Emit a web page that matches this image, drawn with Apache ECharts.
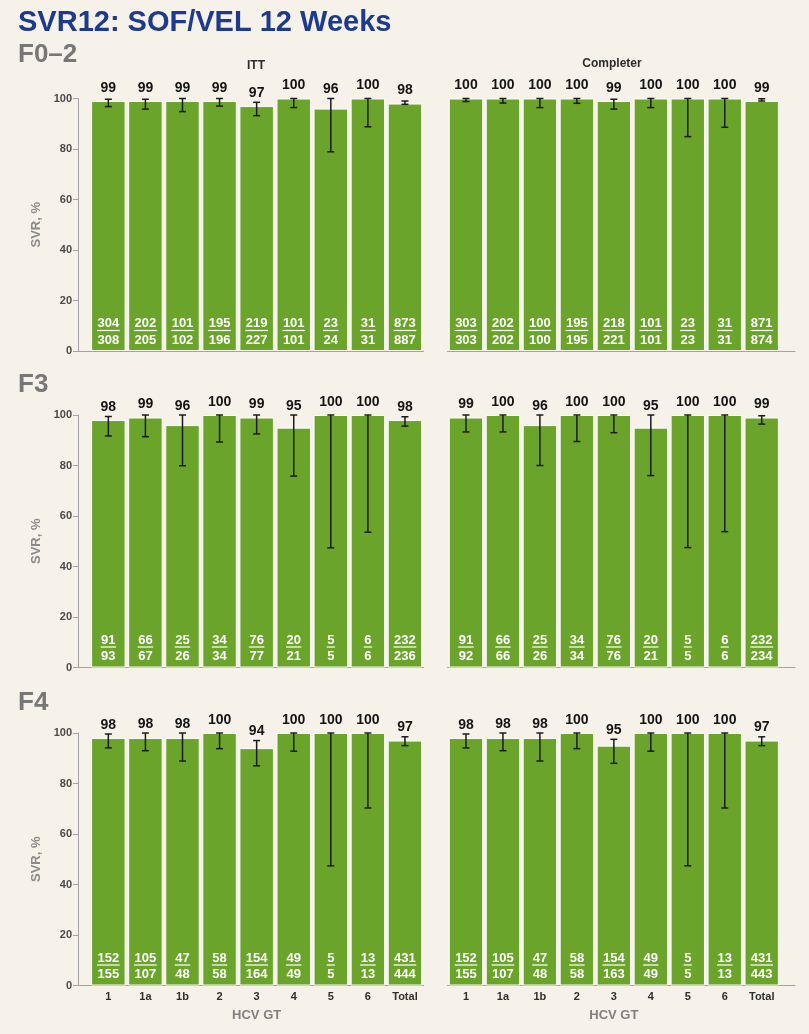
<!DOCTYPE html>
<html>
<head>
<meta charset="utf-8">
<script src="https://cdn.jsdelivr.net/npm/echarts@6/dist/echarts.min.js"></script>
<style>
  html, body { margin: 0; padding: 0; background: #f7f2e9; }
  #chart { width: 809px; height: 1034px; }
</style>
</head>
<body>
<div id="chart"></div>
<script>
// HCV genotype categories (shared by every panel)
const genotypes = ['1', '1a', '1b', '2', '3', '4', '5', '6', 'Total'];
const yTicks = [0, 20, 40, 60, 80, 100];

// F0–2, ITT
const f02IttSvr = [99, 99, 99, 99, 97, 100, 96, 100, 98];
const f02IttLow = [96.8, 95.8, 94.8, 97.0, 93.2, 96.4, 78.9, 88.8, 97.7];
const f02IttHigh = [99.7, 99.7, 100, 100, 98.5, 100, 100, 100, 99.0];
const f02IttCured = [304, 202, 101, 195, 219, 101, 23, 31, 873];
const f02IttTreated = [308, 205, 102, 196, 227, 101, 24, 31, 887];

// F0–2, Completer
const f02CompSvr = [100, 100, 100, 100, 99, 100, 100, 100, 99];
const f02CompLow = [98.8, 98.2, 96.4, 98.1, 95.8, 96.4, 84.9, 88.6, 99.0];
const f02CompHigh = [100, 100, 100, 100, 99.7, 100, 100, 100, 99.9];
const f02CompCured = [303, 202, 100, 195, 218, 101, 23, 31, 871];
const f02CompTreated = [303, 202, 100, 195, 221, 101, 23, 31, 874];

// F3, ITT
const f3IttSvr = [98, 99, 96, 100, 99, 95, 100, 100, 98];
const f3IttLow = [91.7, 91.4, 79.9, 89.3, 92.5, 75.8, 47.4, 53.6, 95.6];
const f3IttHigh = [99.4, 100, 100, 100, 100, 100, 100, 100, 99.3];
const f3IttCured = [91, 66, 25, 34, 76, 20, 5, 6, 232];
const f3IttTreated = [93, 67, 26, 34, 77, 21, 5, 6, 236];

// F3, Completer
const f3CompSvr = [99, 100, 96, 100, 100, 95, 100, 100, 99];
const f3CompLow = [93.3, 93.3, 80.0, 89.5, 93.0, 76.0, 47.5, 53.8, 96.4];
const f3CompHigh = [100, 100, 100, 100, 100, 100, 100, 100, 99.7];
const f3CompCured = [91, 66, 25, 34, 76, 20, 5, 6, 232];
const f3CompTreated = [92, 66, 26, 34, 76, 21, 5, 6, 234];

// F4, ITT
const f4IttSvr = [98, 98, 98, 100, 94, 100, 100, 100, 97];
const f4IttLow = [94.1, 93.0, 88.9, 93.8, 87.0, 92.8, 47.4, 70.3, 95.0];
const f4IttHigh = [99.6, 100, 100, 100, 97.0, 100, 100, 100, 98.5];
const f4IttCured = [152, 105, 47, 58, 154, 49, 5, 13, 431];
const f4IttTreated = [155, 107, 48, 58, 164, 49, 5, 13, 444];

// F4, Completer
const f4CompSvr = [98, 98, 98, 100, 95, 100, 100, 100, 97];
const f4CompLow = [94.1, 93.0, 88.9, 93.8, 88.0, 92.8, 47.4, 70.3, 95.0];
const f4CompHigh = [99.6, 100, 100, 100, 97.5, 100, 100, 100, 98.5];
const f4CompCured = [152, 105, 47, 58, 154, 49, 5, 13, 431];
const f4CompTreated = [155, 107, 48, 58, 163, 49, 5, 13, 443];

const rowLabels = ['F0\u20132', 'F3', 'F4'];
const columnLabels = ['ITT', 'Completer'];

const panels = [
  { row: 0, col: 0, svr: f02IttSvr, low: f02IttLow, high: f02IttHigh, cured: f02IttCured, treated: f02IttTreated },
  { row: 0, col: 1, svr: f02CompSvr, low: f02CompLow, high: f02CompHigh, cured: f02CompCured, treated: f02CompTreated },
  { row: 1, col: 0, svr: f3IttSvr, low: f3IttLow, high: f3IttHigh, cured: f3IttCured, treated: f3IttTreated },
  { row: 1, col: 1, svr: f3CompSvr, low: f3CompLow, high: f3CompHigh, cured: f3CompCured, treated: f3CompTreated },
  { row: 2, col: 0, svr: f4IttSvr, low: f4IttLow, high: f4IttHigh, cured: f4IttCured, treated: f4IttTreated },
  { row: 2, col: 1, svr: f4CompSvr, low: f4CompLow, high: f4CompHigh, cured: f4CompCured, treated: f4CompTreated }
];

// ---- layout ----
const FONT = '"Liberation Sans", Arial, Helvetica, sans-serif';
const GREEN = '#6ba42a';
const rowTop = [98.5, 415, 733];
const plotHeight = 252.5;
const columns = [
  { frameLeft: 78, frameRight: 423.5, barLeft: 89.8, barRight: 423.5 },
  { frameLeft: 447.5, frameRight: 795, barLeft: 447.5, barRight: 780.2 }
];

const measureCtx = document.createElement('canvas').getContext('2d');
function textWidth(str, font) {
  measureCtx.font = font;
  return measureCtx.measureText(str).width;
}

const grid = [], xAxis = [], yAxis = [], series = [];

panels.forEach(function (p, k) {
  const col = columns[p.col];
  const top = rowTop[p.row];
  const isBottom = p.row === 2;
  const isLeft = p.col === 0;
  const frameIdx = 2 * k;
  const barIdx = 2 * k + 1;

  // frame grid: carries the value axis and the baseline
  grid.push({ left: col.frameLeft, top: top, width: col.frameRight - col.frameLeft, height: plotHeight });
  xAxis.push({
    gridIndex: frameIdx, type: 'category', data: [''],
    axisLine: { show: true, lineStyle: { color: '#a3a3a3', width: 1 } },
    axisTick: { show: false }, axisLabel: { show: false }
  });
  yAxis.push({
    gridIndex: frameIdx, type: 'value', min: yTicks[0], max: yTicks[yTicks.length - 1], interval: 20,
    show: isLeft,
    axisLine: { show: true, lineStyle: { color: '#a3a3a3', width: 1 } },
    axisTick: { show: true, length: 5, lineStyle: { color: '#a3a3a3' } },
    axisLabel: { show: true, margin: 6, color: '#4a4a4a', fontFamily: FONT, fontWeight: 'bold', fontSize: 11 },
    splitLine: { show: false },
    name: 'SVR, %', nameLocation: 'middle', nameGap: 35, nameRotate: 90,
    nameTextStyle: { color: '#8a8a8a', fontFamily: FONT, fontWeight: 'bold', fontSize: 13 }
  });

  // bar grid: carries the genotype bands
  grid.push({ left: col.barLeft, top: top, width: col.barRight - col.barLeft, height: plotHeight });
  xAxis.push({
    gridIndex: barIdx, type: 'category', data: genotypes,
    axisLine: { show: false }, axisTick: { show: false },
    axisLabel: { show: isBottom, margin: 6, color: '#2e2e2e', fontFamily: FONT, fontWeight: 'bold', fontSize: 11 },
    name: isBottom ? 'HCV GT' : '', nameLocation: 'middle', nameGap: 23,
    nameTextStyle: { color: '#808080', fontFamily: FONT, fontWeight: 'bold', fontSize: 13 }
  });
  yAxis.push({ gridIndex: barIdx, type: 'value', min: 0, max: 100, show: false });

  series.push({
    type: 'bar', xAxisIndex: barIdx, yAxisIndex: barIdx,
    data: p.svr, barCategoryGap: '7%',
    itemStyle: { color: GREEN, borderColor: '#fdfdf9', borderWidth: 1 },
    silent: true, z: 2
  });

  const rows = genotypes.map(function (g, i) {
    return [i, p.svr[i], p.low[i], p.high[i], p.cured[i], p.treated[i]];
  });

  series.push({
    type: 'custom', xAxisIndex: barIdx, yAxisIndex: barIdx, z: 5, silent: true,
    data: rows,
    encode: { x: 0, y: 1 },
    renderItem: function (params, api) {
      const i = api.value(0);
      const topPt = api.coord([i, api.value(1)]);
      const basePt = api.coord([i, 0]);
      const loPt = api.coord([i, api.value(2)]);
      const hiPt = api.coord([i, api.value(3)]);
      const x = topPt[0];
      const cap = 3.5;
      const stroke = { stroke: '#1b1b1b', lineWidth: 1.5 };
      const numStr = String(api.value(4));
      const denStr = String(api.value(5));
      const fracFont = 'bold 13px ' + FONT;
      const ruleW = Math.max(textWidth(numStr, fracFont), textWidth(denStr, fracFont)) + 1;
      const base = basePt[1];
      return {
        type: 'group',
        children: [
          { type: 'line', shape: { x1: x, y1: hiPt[1], x2: x, y2: loPt[1] }, style: stroke },
          { type: 'line', shape: { x1: x - cap, y1: hiPt[1], x2: x + cap, y2: hiPt[1] }, style: stroke },
          { type: 'line', shape: { x1: x - cap, y1: loPt[1], x2: x + cap, y2: loPt[1] }, style: stroke },
          {
            type: 'text', x: x, y: Math.min(topPt[1] - 13, hiPt[1] - 9),
            style: { text: String(api.value(1)), fill: '#141414', font: 'bold 14px ' + FONT, align: 'center', verticalAlign: 'middle' }
          },
          {
            type: 'text', x: x, y: base - 27.5,
            style: { text: numStr, fill: '#ffffff', font: fracFont, align: 'center', verticalAlign: 'middle' }
          },
          {
            type: 'line', shape: { x1: x - ruleW / 2, y1: base - 20.5, x2: x + ruleW / 2, y2: base - 20.5 },
            style: { stroke: '#ffffff', lineWidth: 1.2 }
          },
          {
            type: 'text', x: x, y: base - 11,
            style: { text: denStr, fill: '#ffffff', font: fracFont, align: 'center', verticalAlign: 'middle' }
          }
        ]
      };
    }
  });
});

// headings
const graphic = [
  { type: 'text', x: 18, y: 23, style: { text: 'SVR12: SOF/VEL 12 Weeks', fill: '#1c3a8e', font: 'bold 29px ' + FONT, verticalAlign: 'middle' } },
  { type: 'text', x: 256, y: 66, style: { text: columnLabels[0], fill: '#2b2b2b', font: 'bold 12px ' + FONT, align: 'center', verticalAlign: 'middle' } },
  { type: 'text', x: 612, y: 64, style: { text: columnLabels[1], fill: '#2b2b2b', font: 'bold 12px ' + FONT, align: 'center', verticalAlign: 'middle' } }
];
const rowLabelY = [55, 385, 703];
rowLabels.forEach(function (t, r) {
  graphic.push({ type: 'text', x: 18, y: rowLabelY[r], style: { text: t, fill: '#777777', font: 'bold 26px ' + FONT, verticalAlign: 'middle' } });
});

const chart = echarts.init(document.getElementById('chart'), null, { renderer: 'canvas' });
chart.setOption({
  backgroundColor: '#f7f2e9',
  animation: false,
  grid: grid,
  xAxis: xAxis,
  yAxis: yAxis,
  series: series,
  graphic: graphic
});
</script>
</body>
</html>
